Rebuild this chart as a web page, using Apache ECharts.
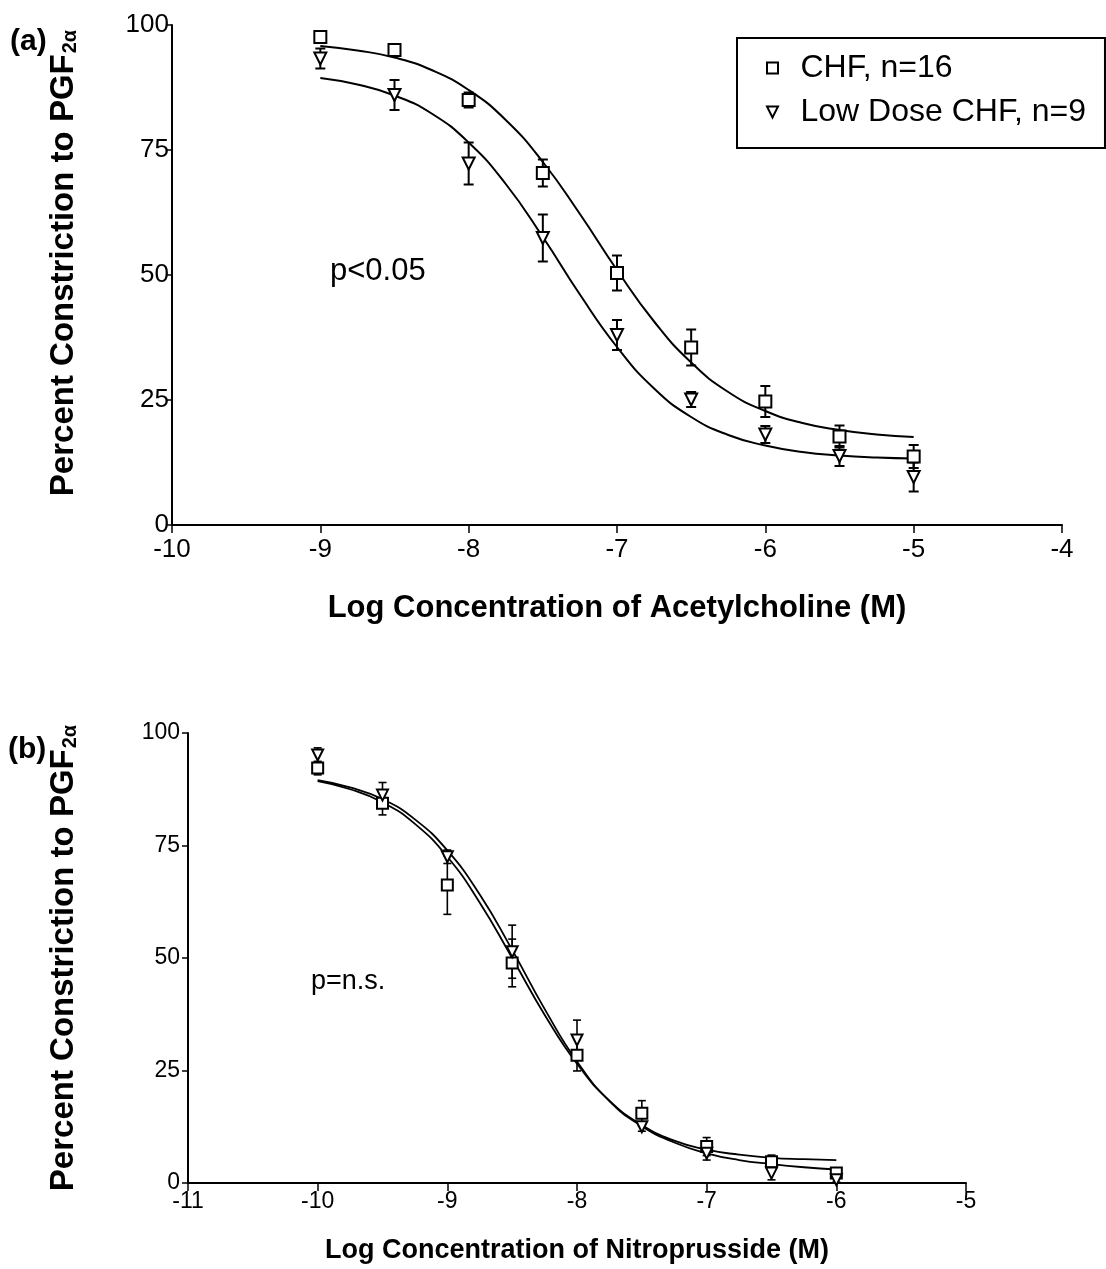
<!DOCTYPE html>
<html>
<head>
<meta charset="utf-8">
<script src="https://cdn.jsdelivr.net/npm/echarts@6/dist/echarts.min.js"></script>
<style>
  html, body { margin: 0; padding: 0; background: #fff; }
  #chart { width: 1106px; height: 1269px; }
</style>
</head>
<body>
<div id="chart"></div>
<script>
// (a) acetylcholine: observed means +/- SEM
const achX = [-9, -8.5, -8, -7.5, -7, -6.5, -6, -5.5, -5];
const achChfMean = [97.6, 95, 85, 70.4, 50.4, 35.5, 24.7, 17.7, 13.7];
const achChfSem = [1, 1, 1.5, 2.7, 3.5, 3.6, 3.1, 2.2, 2.3];
const achLowMean = [93.3, 86, 72.3, 57.4, 38, 25.1, 18.1, 13.8, 9.6];
const achLowSem = [2, 3, 4.2, 4.7, 3, 1.5, 1.7, 2, 2.9];

// (a) fitted curves
const achFitX = [-9, -8.75, -8.5, -8.25, -8, -7.75, -7.5, -7.25, -7, -6.75, -6.5, -6.25, -6, -5.75, -5.5, -5.25, -5];
const achChfFit = [95.8, 94.9, 93.5, 91, 87, 81, 72.6, 62.2, 51, 40.7, 32.5, 26.6, 22.8, 20.4, 19, 18.1, 17.6];
const achLowFit = [89.4, 88.1, 85.9, 82.3, 76.5, 68.2, 57.6, 46.1, 35.6, 27.3, 21.6, 18, 15.9, 14.6, 13.9, 13.5, 13.3];

// (b) nitroprusside: observed means +/- SEM
const npX = [-10, -9.5, -9, -8.5, -8, -7.5, -7, -6.5, -6];
const npChfMean = [92.2, 84.4, 66.2, 48.9, 28.4, 15.5, 8.1, 4.7, 2.2];
const npChfSem = [1.5, 2.6, 6.5, 5.3, 3.5, 2.8, 2, 1.5, 0.8];
const npLowMean = [95.1, 86.2, 72.5, 51.4, 31.8, 12.5, 6.6, 2.2, 0.7];
const npLowSem = [1.6, 2.8, 1.5, 5.9, 4.4, 1, 1.5, 1.5, 0.5];

// (b) fitted curves
const npFitX = [-10, -9.75, -9.5, -9.25, -9, -8.75, -8.5, -8.25, -8, -7.75, -7.5, -7.25, -7, -6.75, -6.5, -6.25, -6];
const npChfFit = [89.3, 87.5, 84.6, 79.8, 72.5, 62.3, 50, 37.4, 26.5, 18.3, 12.9, 9.4, 7.4, 6.3, 5.6, 5.3, 5.1];
const npLowFit = [89.5, 87.9, 85.3, 80.8, 73.9, 64.1, 51.8, 38.7, 27, 18.2, 12.6, 9, 6.6, 5.1, 4.2, 3.5, 3];

const yTicks = [0, 25, 50, 75, 100];
const legendNames = ['CHF, n=16', 'Low Dose CHF, n=9'];

const FONT = '"Liberation Sans", Arial, sans-serif';
const SQUARE = 'path://M0,0 L10,0 L10,10 L0,10 Z';
const TRIANGLE = 'path://M0,0 L10,0 L5,10 Z';

const zip = (xs, ys) => xs.map((x, i) => [x, ys[i]]);

function makeXAxis(gridIndex, min, max, fontSize, name, nameSize, nameGap, margin) {
  return {
    gridIndex,
    type: 'value',
    min,
    max,
    interval: 1,
    name,
    nameLocation: 'middle',
    nameGap,
    nameTextStyle: { fontFamily: FONT, fontWeight: 'bold', fontSize: nameSize, color: '#000' },
    axisLine: { onZero: false, lineStyle: { color: '#000', width: 2 } },
    axisTick: { length: 8, lineStyle: { color: '#000', width: 1.5 } },
    axisLabel: { fontFamily: FONT, fontSize, color: '#000', margin },
    splitLine: { show: false }
  };
}

function makeYAxis(gridIndex, fontSize, nameGap, labelMargin, namePadding) {
  return {
    gridIndex,
    type: 'value',
    min: yTicks[0],
    max: yTicks[yTicks.length - 1],
    interval: 25,
    name: '{m|Percent Constriction to PGF}{s|2α}',
    nameLocation: 'middle',
    nameRotate: 90,
    nameGap,
    nameTextStyle: {
      color: '#000',
      padding: namePadding,
      rich: {
        m: { fontFamily: FONT, fontWeight: 'bold', fontSize: 33, lineHeight: 33, verticalAlign: 'top' },
        s: { fontFamily: FONT, fontWeight: 'bold', fontSize: 20, lineHeight: 20, verticalAlign: 'bottom', padding: [16, 0, 0, 1] }
      }
    },
    axisLine: { onZero: false, lineStyle: { color: '#000', width: 2 } },
    axisTick: { length: 6, lineStyle: { color: '#000', width: 1.5 } },
    axisLabel: { fontFamily: FONT, fontSize, color: '#000', margin: labelMargin },
    splitLine: { show: false }
  };
}

function curveSeries(idx, xs, ys, width) {
  return {
    type: 'line',
    xAxisIndex: idx,
    yAxisIndex: idx,
    data: zip(xs, ys),
    smooth: 0.5,
    showSymbol: false,
    symbol: 'none',
    lineStyle: { color: '#000', width },
    silent: true,
    z: 2
  };
}

function errorSeries(idx, xs, means, sems, cap, width) {
  return {
    type: 'custom',
    xAxisIndex: idx,
    yAxisIndex: idx,
    encode: { x: 0, y: [1, 2] },
    data: xs.map((x, i) => [x, means[i] - sems[i], means[i] + sems[i]]),
    renderItem: (params, api) => {
      const lo = api.coord([api.value(0), api.value(1)]);
      const hi = api.coord([api.value(0), api.value(2)]);
      const style = { stroke: '#000', lineWidth: width };
      return {
        type: 'group',
        children: [
          { type: 'line', shape: { x1: lo[0], y1: lo[1], x2: hi[0], y2: hi[1] }, style },
          { type: 'line', shape: { x1: lo[0] - cap, y1: lo[1], x2: lo[0] + cap, y2: lo[1] }, style },
          { type: 'line', shape: { x1: hi[0] - cap, y1: hi[1], x2: hi[0] + cap, y2: hi[1] }, style }
        ]
      };
    },
    silent: true,
    z: 3
  };
}

function markerSeries(idx, name, xs, ys, symbol, size) {
  return {
    name,
    type: 'scatter',
    xAxisIndex: idx,
    yAxisIndex: idx,
    data: zip(xs, ys),
    symbol,
    symbolSize: size,
    symbolKeepAspect: true,
    itemStyle: { color: '#fff', borderColor: '#000', borderWidth: 2, opacity: 1 },
    silent: true,
    z: 4
  };
}

const chart = echarts.init(document.getElementById('chart'), null, { renderer: 'canvas' });

chart.setOption({
  animation: false,
  backgroundColor: '#fff',
  textStyle: { fontFamily: FONT, color: '#000' },
  grid: [
    { left: 172, top: 25, width: 890, height: 500 },
    { left: 188, top: 733, width: 778, height: 450 }
  ],
  xAxis: [
    makeXAxis(0, -10, -4, 26, 'Log Concentration of Acetylcholine (M)', 31, 68, 12),
    makeXAxis(1, -11, -5, 23, 'Log Concentration of Nitroprusside (M)', 27, 54, 7)
  ],
  yAxis: [
    makeYAxis(0, 26, 92, 3, [0, 0, 0, 24]),
    makeYAxis(1, 23, 108, 8, [0, 0, 0, 0])
  ],
  legend: {
    data: legendNames,
    orient: 'vertical',
    left: 737,
    top: 38,
    padding: [14, 19, 20, 29],
    itemWidth: 46,
    itemHeight: 11,
    itemGap: 12,
    borderColor: '#000',
    borderWidth: 2,
    borderRadius: 0,
    backgroundColor: '#fff',
    selectedMode: false,
    textStyle: { fontFamily: FONT, fontSize: 32, color: '#000' }
  },
  graphic: [
    { type: 'text', left: 10, top: 27, style: { text: '(a)', font: 'bold 30px ' + FONT, fill: '#000' } },
    { type: 'text', left: 8, top: 735, style: { text: '(b)', font: 'bold 30px ' + FONT, fill: '#000' } },
    { type: 'text', left: 330, top: 256, style: { text: 'p<0.05', font: '31px ' + FONT, fill: '#000' } },
    { type: 'text', left: 311, top: 968, style: { text: 'p=n.s.', font: '27px ' + FONT, fill: '#000' } }
  ],
  series: [
    curveSeries(0, achFitX, achChfFit, 2),
    curveSeries(0, achFitX, achLowFit, 2),
    errorSeries(0, achX, achChfMean, achChfSem, 5, 2),
    errorSeries(0, achX, achLowMean, achLowSem, 5, 2),
    markerSeries(0, legendNames[0], achX, achChfMean, SQUARE, 12),
    markerSeries(0, legendNames[1], achX, achLowMean, TRIANGLE, 12),

    curveSeries(1, npFitX, npChfFit, 1.8),
    curveSeries(1, npFitX, npLowFit, 1.8),
    errorSeries(1, npX, npChfMean, npChfSem, 4, 1.6),
    errorSeries(1, npX, npLowMean, npLowSem, 4, 1.6),
    markerSeries(1, 'CHF (b)', npX, npChfMean, SQUARE, 11),
    markerSeries(1, 'Low Dose CHF (b)', npX, npLowMean, TRIANGLE, 11)
  ]
});

window.addEventListener('resize', () => {
  chart.resize();
});
</script>
</body>
</html>
